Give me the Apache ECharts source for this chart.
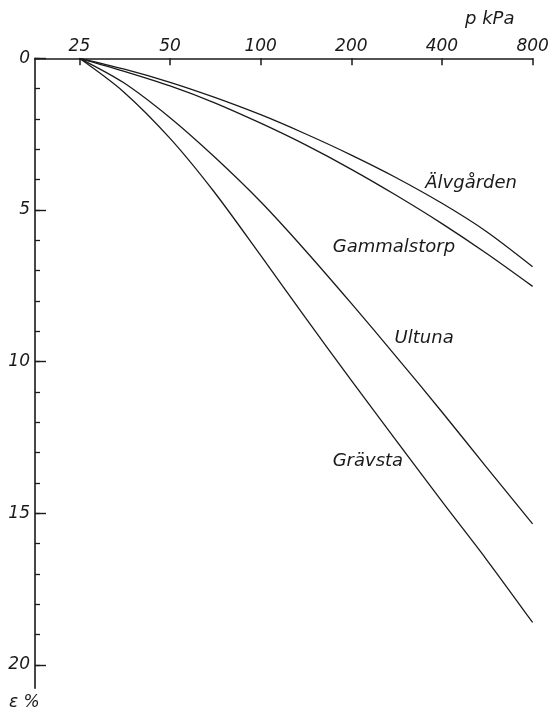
<!DOCTYPE html>
<html>
<head>
<meta charset="utf-8">
<script src="https://cdn.jsdelivr.net/npm/echarts@6/dist/echarts.min.js"></script>
<style>
html,body{margin:0;padding:0;background:#fff;}
#chart{width:553px;height:715px;}
</style>
</head>
<body>
<div id="chart"></div>
<script>
// ---- data ----
const pressures = [25, 35, 50, 70, 100, 140, 200, 280, 400, 560, 800];
const alvgarden   = [0, 0.35, 0.79, 1.28, 1.86, 2.48, 3.19, 3.92, 4.78, 5.70, 6.87];
const gammalstorp = [0, 0.42, 0.91, 1.46, 2.14, 2.84, 3.66, 4.50, 5.45, 6.42, 7.52];
const ultuna      = [0, 0.80, 1.96, 3.24, 4.73, 6.31, 8.08, 9.80, 11.66, 13.46, 15.35];
const gravsta     = [0, 1.10, 2.64, 4.40, 6.50, 8.52, 10.62, 12.56, 14.61, 16.50, 18.60];
const seriesNames = ['Älvgården', 'Gammalstorp', 'Ultuna', 'Grävsta'];
const xTicks = [25, 50, 100, 200, 400, 800];
const yMajorTicks = [0, 5, 10, 15, 20];
const yMinorTicks = [0,1,2,3,4,5,6,7,8,9,10,11,12,13,14,15,16,17,18,19,20];
// label anchor positions (data space)
const labelPos = [[500, 4.11], [277, 6.22], [349, 9.24], [227, 13.29]];

const FONT = 'DejaVu Sans';
const INK = '#1a1a1a';
const allSeries = [alvgarden, gammalstorp, ultuna, gravsta];

const chart = echarts.init(document.getElementById('chart'), null, {renderer: 'canvas'});
const option = {
  backgroundColor: '#ffffff',
  animation: false,
  grid: {left: 35, right: 20.4, top: 58.3, bottom: 26.7, outerBoundsMode: 'none'},
  xAxis: {
    type: 'log', logBase: 2, min: 17.8, max: 800, position: 'top',
    axisLine: {onZero: false, lineStyle: {color: INK, width: 1.5}},
    axisTick: {inside: true, length: 7, lineStyle: {color: INK, width: 1.5}, customValues: xTicks},
    axisLabel: {customValues: xTicks, margin: 3, color: INK, fontFamily: FONT, fontStyle: 'italic', fontSize: 17,
      formatter: v => String(Math.round(v))},
    splitLine: {show: false}, minorTick: {show: false}
  },
  yAxis: [
    {
      type: 'value', inverse: true, min: 0, max: 20.77, position: 'left',
      axisLine: {onZero: false, lineStyle: {color: INK, width: 1.6}},
      axisTick: {inside: true, length: 5, lineStyle: {color: INK, width: 1.3}, customValues: yMinorTicks},
      axisLabel: {show: false}, splitLine: {show: false}
    },
    {
      type: 'value', inverse: true, min: 0, max: 20.77, position: 'left', offset: 0,
      axisLine: {show: false, onZero: false},
      axisTick: {inside: true, length: 11, lineStyle: {color: INK, width: 1.4}, customValues: yMajorTicks},
      axisLabel: {customValues: yMajorTicks, margin: 5, color: INK, fontFamily: FONT, fontStyle: 'italic', fontSize: 17},
      splitLine: {show: false}
    }
  ],
  series: allSeries.map((vals, i) => ({
    name: seriesNames[i],
    type: 'line',
    xAxisIndex: 0, yAxisIndex: 0,
    data: pressures.map((p, j) => [p, vals[j]]),
    smooth: 0.3,
    showSymbol: false,
    symbol: 'none',
    lineStyle: {color: INK, width: 1.3},
    markPoint: {
      symbol: 'circle', symbolSize: 0,
      data: [{coord: labelPos[i], value: seriesNames[i]}],
      label: {show: true, position: 'inside', formatter: seriesNames[i], color: INK,
        fontFamily: FONT, fontStyle: 'italic', fontSize: 18}
    }
  })),
  graphic: [
    {type: 'text', left: 465, top: 10, style: {text: 'p kPa', fill: INK, font: 'italic 18px "DejaVu Sans"'}},
    {type: 'text', left: 9, top: 694, style: {text: 'ε %', fill: INK, font: 'italic 17px "DejaVu Sans"'}}
  ]
};
chart.setOption(option);
</script>
</body>
</html>
